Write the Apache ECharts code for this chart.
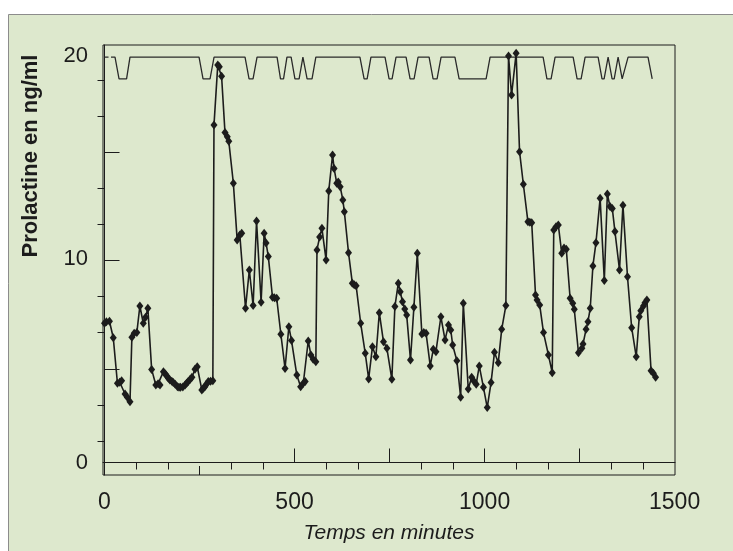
<!DOCTYPE html>
<html><head><meta charset="utf-8">
<script src="https://cdn.jsdelivr.net/npm/echarts@6/dist/echarts.min.js"></script>
<style>html,body{margin:0;padding:0;background:#fff}#c{width:733px;height:551px}</style>
</head><body><div id="c"></div>
<script>
// Prolactin samples (minutes, ng/ml)
const prlTime = [0,5,13,23,34,40,45,54,60,67,72,78,85,93,102,108,114,124,135,141,146,155,160,164,168,172,177,181,186,192,196,200,206,212,216,220,225,230,238,244,256,260,264,268,273,279,285,288,298,302,308,317,323,327,339,349,356,361,371,381,391,400,412,420,425,431,442,447,453,464,475,485,492,506,516,523,528,536,543,549,556,559,566,572,583,590,600,604,611,615,620,627,631,642,652,657,662,674,686,695,705,714,723,734,743,756,764,773,778,784,790,795,805,814,823,835,840,846,857,865,872,885,896,905,911,916,927,937,944,957,966,972,978,986,997,1007,1017,1026,1036,1045,1056,1063,1071,1083,1092,1102,1114,1119,1124,1134,1138,1145,1155,1168,1178,1182,1188,1194,1203,1209,1215,1225,1232,1236,1247,1256,1259,1267,1272,1278,1285,1293,1304,1315,1323,1330,1336,1343,1355,1364,1376,1387,1399,1407,1411,1418,1422,1427,1438,1444,1450];
const prlValue = [6.85,6.92,6.95,6.14,3.90,3.95,4.02,3.37,3.21,2.99,6.16,6.36,6.39,7.70,6.85,7.15,7.59,4.58,3.81,3.88,3.81,4.47,4.35,4.26,4.15,4.06,4.00,3.93,3.85,3.73,3.70,3.70,3.72,3.81,3.90,3.98,4.08,4.19,4.59,4.71,3.57,3.65,3.73,3.85,3.98,4.00,4.02,16.6,19.56,19.47,19.00,16.23,16.03,15.80,13.74,10.95,11.19,11.28,7.59,9.47,7.72,11.88,7.88,11.28,10.80,10.13,8.13,8.10,8.08,6.31,4.63,6.68,6.00,4.30,3.73,3.90,3.98,5.98,5.29,5.08,4.96,10.46,11.10,11.52,9.96,13.36,15.13,14.47,13.74,13.80,13.57,12.92,12.34,10.32,8.82,8.75,8.70,6.85,5.37,4.11,5.70,5.20,7.37,5.94,5.62,4.09,7.67,8.82,8.40,7.91,7.55,7.26,5.04,7.64,10.29,6.32,6.40,6.36,4.75,5.57,5.45,7.17,6.03,6.77,6.52,5.78,5.01,3.21,7.83,3.62,4.19,4.00,3.85,4.75,3.70,2.70,3.93,5.42,4.91,6.55,7.72,20.00,18.08,20.13,15.29,13.69,11.85,11.82,11.80,8.24,8.00,7.75,6.39,5.29,4.42,11.44,11.60,11.69,10.29,10.55,10.49,8.08,7.83,7.54,5.40,5.62,5.83,6.55,6.93,7.59,9.67,10.81,13.00,8.95,13.21,12.59,12.50,11.36,9.47,12.66,9.14,6.63,5.20,7.17,7.47,7.70,7.86,8.00,4.52,4.39,4.19];

// Sleep stage trace drawn at the top (minutes, plotted level)
const hypnoTime = [17,27.6,38.2,58,67,248.7,259.2,277.6,288.2,369.7,380.3,390.8,401.3,454,463,471,480,491,501,512,522,533,546,556,672,683,691,701,738,748.7,756.6,767,793.4,804,814.5,825,854,864.5,875,885.5,922,933,1004,1014.5,1154,1164,1175,1185.5,1233,1243.4,1254,1264.5,1298.7,1309,1314.5,1325,1335.5,1341,1351.3,1362,1367,1377.6,1430,1441];
const hypnoValue = [19.94,19.94,18.87,18.87,19.94,19.94,18.87,18.87,19.94,19.94,18.87,18.87,19.94,19.94,18.87,18.87,19.94,19.94,18.87,18.87,19.94,18.87,18.87,19.94,19.94,18.87,18.87,19.94,19.94,18.87,18.87,19.94,19.94,18.87,18.87,19.94,19.94,18.87,18.87,19.94,19.94,18.87,18.87,19.94,19.94,18.87,18.87,19.94,19.94,18.87,18.87,19.94,19.94,18.87,18.87,19.94,18.87,18.87,19.94,18.87,18.87,19.94,19.94,18.87];
const hypnoDashTime = [0, 12];
const hypnoDashValue = [19.94, 19.94];

// Axis ticks and labels
const xLabelValues = [0, 500, 1000, 1500];
const xMajorTicks = [500, 750, 1000, 1250];
const xShortTicks = [250];
const xMinorTicks = [83.3,166.7,333.3,416.7,583.3,666.7,833.3,916.7,1083.3,1166.7,1333.3,1416.7];
const yLabelValues = [0, 10, 20];
const yMajorTicks = [4.61, 9.94, 15.27];
const yMinorTicks = [1.06, 2.84, 6.39, 8.16, 11.72, 13.49, 17.04, 18.82];

const INK = '#1c1c1c';
const FONT = 'Liberation Sans, Arial, sans-serif';
const XMIN = -4, XMAX = 1501, YMIN = -0.615, YMAX = 20.54;

const zip = (a, b) => a.map((v, i) => [v, b[i]]);
const plain = (v) => String(v);

function xAxisBase(extra) {
  return Object.assign({
    type: 'value', min: XMIN, max: XMAX, position: 'bottom',
    splitLine: { show: false },
    axisLine: { show: false },
    axisLabel: { show: false }
  }, extra);
}
function yAxisBase(extra) {
  return Object.assign({
    type: 'value', min: YMIN, max: YMAX, position: 'left',
    splitLine: { show: false },
    axisLine: { show: false },
    axisLabel: { show: false }
  }, extra);
}

const chart = echarts.init(document.getElementById('c'), null, { renderer: 'canvas' });
chart.setOption({
  backgroundColor: '#ffffff',
  animation: false,
  graphic: [
    { type: 'rect', z: -100, silent: true,
      shape: { x: 8.5, y: 14.5, width: 760, height: 600 },
      style: { fill: '#dde8cd', stroke: '#8c8c8c', lineWidth: 1 } },
    { type: 'text', z: 10, x: 31, y: 156, rotation: Math.PI / 2,
      style: { text: 'Prolactine en ng/ml', font: 'bold 22px ' + FONT, fill: INK,
               textAlign: 'center', textVerticalAlign: 'middle' } }
  ],
  grid: { left: 103, top: 45, width: 572, height: 430, show: true,
          borderColor: INK, borderWidth: 1, backgroundColor: 'transparent' },
  xAxis: [
    xAxisBase({
      axisLine: { show: true, lineStyle: { color: INK, width: 1 } },
      axisTick: { show: true, inside: false, length: 7, customValues: xMinorTicks, lineStyle: { color: INK } },
      axisLabel: { show: true, customValues: xLabelValues, formatter: plain, margin: 16, fontSize: 23, color: INK, fontFamily: FONT },
      name: 'Temps en minutes', nameLocation: 'middle', nameGap: 48,
      nameTextStyle: { fontSize: 21, fontStyle: 'italic', color: INK, fontFamily: FONT }
    }),
    xAxisBase({ axisTick: { show: true, inside: true, length: 14, customValues: xMajorTicks, lineStyle: { color: INK } } }),
    xAxisBase({ axisTick: { show: true, inside: true, length: 9, customValues: xShortTicks, lineStyle: { color: INK } } })
  ],
  yAxis: [
    yAxisBase({
      axisLine: { show: true, lineStyle: { color: INK, width: 1 } },
      axisTick: { show: true, inside: false, length: 7, customValues: yMinorTicks, lineStyle: { color: INK } },
      axisLabel: { show: true, customValues: yLabelValues, formatter: plain, margin: 15, fontSize: 22, color: INK, fontFamily: FONT }
    }),
    yAxisBase({ axisTick: { show: true, inside: true, length: 15, customValues: yMajorTicks, lineStyle: { color: INK } } })
  ],
  series: [
    { type: 'line', name: 'stades', xAxisIndex: 0, yAxisIndex: 0, data: zip(hypnoTime, hypnoValue),
      showSymbol: false, symbol: 'none', lineStyle: { color: '#2a2a2a', width: 1.3 }, z: 3 },
    { type: 'line', name: 'stades-debut', xAxisIndex: 0, yAxisIndex: 0, data: zip(hypnoDashTime, hypnoDashValue),
      showSymbol: false, symbol: 'none', lineStyle: { color: '#2a2a2a', width: 1.3, type: [4, 3] }, z: 3 },
    { type: 'line', name: 'Prolactine', xAxisIndex: 0, yAxisIndex: 0, data: zip(prlTime, prlValue),
      symbol: 'diamond', symbolSize: [7, 9], showAllSymbol: true,
      itemStyle: { color: INK }, lineStyle: { color: INK, width: 1.6 }, z: 4 }
  ]
});
</script>
</body></html>
